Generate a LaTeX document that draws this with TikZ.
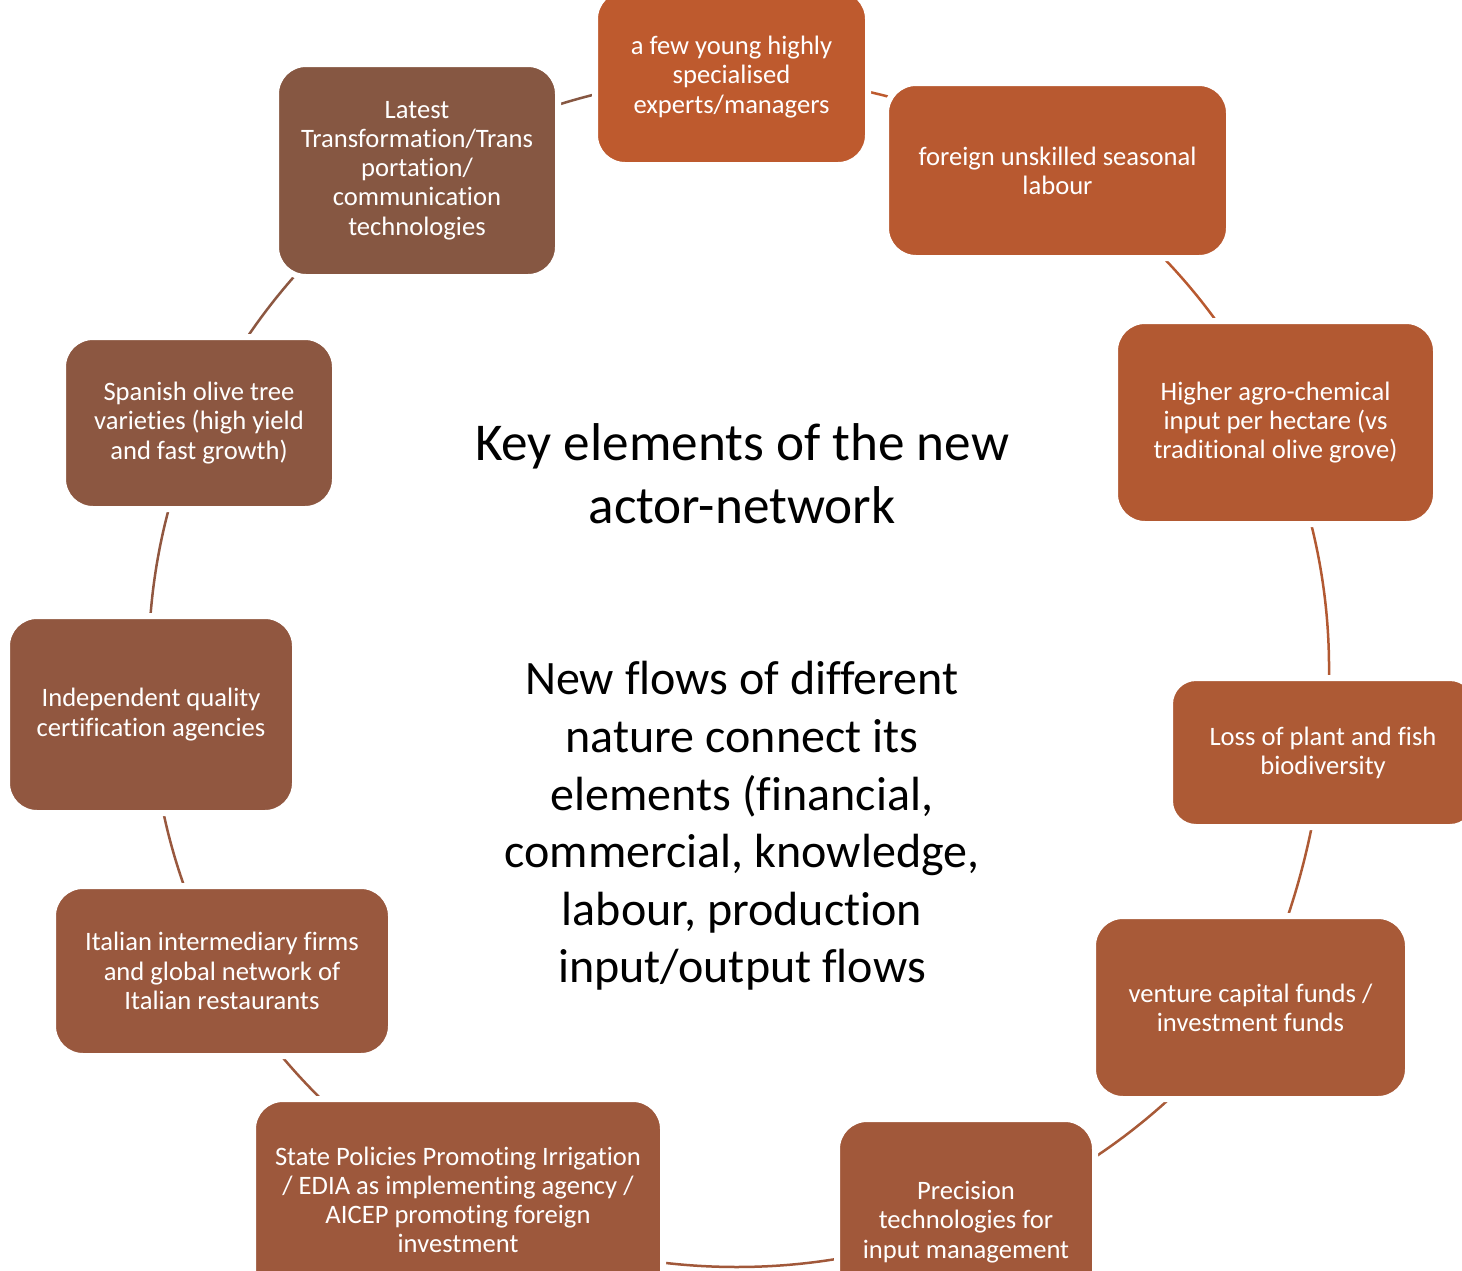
\documentclass[tikz,border=0pt]{standalone}
\usepackage{fontspec}
\setmainfont{Carlito}[Ligatures={NoCommon}]
\usetikzlibrary{backgrounds}

\definecolor{cA}{RGB}{190,90,46}
\definecolor{cB}{RGB}{184,89,48}
\definecolor{cC}{RGB}{178,89,50}
\definecolor{cD}{RGB}{173,90,53}
\definecolor{cE}{RGB}{168,90,56}
\definecolor{cF}{RGB}{161,88,58}
\definecolor{cG}{RGB}{157,88,60}
\definecolor{cH}{RGB}{153,88,62}
\definecolor{cI}{RGB}{145,87,64}
\definecolor{cJ}{RGB}{140,87,65}
\definecolor{cK}{RGB}{134,87,66}

\begin{document}
\begin{tikzpicture}[x=0.5pt,y=-0.5pt,
  box/.style={rounded corners=15pt, draw=white, line width=3pt, text=white,
    align=center, inner sep=0pt, font=\fontsize{13.3}{14.6}\selectfont},
  conn/.style={line width=1.25pt, bend left=#1, looseness=0.87},
  bigtext/.style={align=center, text=black},
]
\useasboundingbox (0,0) rectangle (1462,1270);

% elements arranged round the ring
\node[box, fill=cA, minimum width=136.5pt, minimum height=88pt] (young) at (731.5,77)
  {a few young highly\\specialised\\experts/managers};
\node[box, fill=cB, minimum width=171.5pt, minimum height=87.5pt] (foreign) at (1057.5,170.5)
  {foreign unskilled seasonal\\labour};
\node[box, fill=cC, minimum width=160.5pt, minimum height=101.5pt] (agro) at (1275.5,422.5)
  {Higher agro-chemical\\input per hectare (vs\\traditional olive grove)};
\node[box, fill=cD, rounded corners=13pt, minimum width=153pt, minimum height=74.5pt] (loss) at (1323,752.5)
  {Loss of plant and fish\\biodiversity};
\node[box, fill=cE, minimum width=157.5pt, minimum height=91.5pt] (venture) at (1250.5,1007.5)
  {venture capital funds /\\investment funds};
\node[box, fill=cF, minimum width=129pt, minimum height=103pt] (precision) at (966,1222)
  {Precision\\technologies for\\input management};
\node[box, fill=cG, minimum width=205pt, minimum height=101pt] (state) at (458,1200)
  {State Policies Promoting Irrigation\\/ EDIA as implementing agency /\\AICEP promoting foreign\\investment};
\node[box, fill=cH, minimum width=169pt, minimum height=85pt] (italian) at (222,971)
  {Italian intermediary firms\\and global network of\\Italian restaurants};
\node[box, fill=cI, minimum width=144pt, minimum height=98.5pt] (indep) at (151,714.5)
  {Independent quality\\certification agencies};
\node[box, fill=cJ, minimum width=136pt, minimum height=86pt] (spanish) at (199,423)
  {Spanish olive tree\\varieties (high yield\\and fast growth)};
\node[box, fill=cK, minimum width=141pt, minimum height=106.5pt] (latest) at (417,170.5)
  {Latest\\Transformation/Trans\\portation/\\communication\\technologies};

% central statements
\node[bigtext, font=\fontsize{26.6}{31.5}\selectfont] (title) at (742,474)
  {Key elements of the new\\actor-network};
\node[bigtext, font=\fontsize{24}{28.8}\selectfont] (flows) at (742,826)
  {New flows of different\\nature connect its\\elements (financial,\\commercial, knowledge,\\labour, production\\input/output flows};

% ring connectors, drawn beneath the boxes
\begin{scope}[on background layer]
  \draw[conn=16.5, cA] (young.center) to (foreign.center);
  \draw[conn=16.3, cB] (foreign.center) to (agro.center);
  \draw[conn=16.4, cC] (agro.center) to (loss.center);
  \draw[conn=10.0, cD] (loss.center) to (venture.center);
  \draw[conn=17.2, cE] (venture.center) to (precision.center);
  \draw[conn=25.3, cF] (precision.center) to (state.center);
  \draw[conn=15.8, cG] (state.center) to (italian.center);
  \draw[conn=13.0, cH] (italian.center) to (indep.center);
  \draw[conn=14.4, cI] (indep.center) to (spanish.center);
  \draw[conn=16.2, cJ] (spanish.center) to (latest.center);
  \draw[conn=15.9, cK] (latest.center) to (young.center);
\end{scope}
\end{tikzpicture}
\end{document}
